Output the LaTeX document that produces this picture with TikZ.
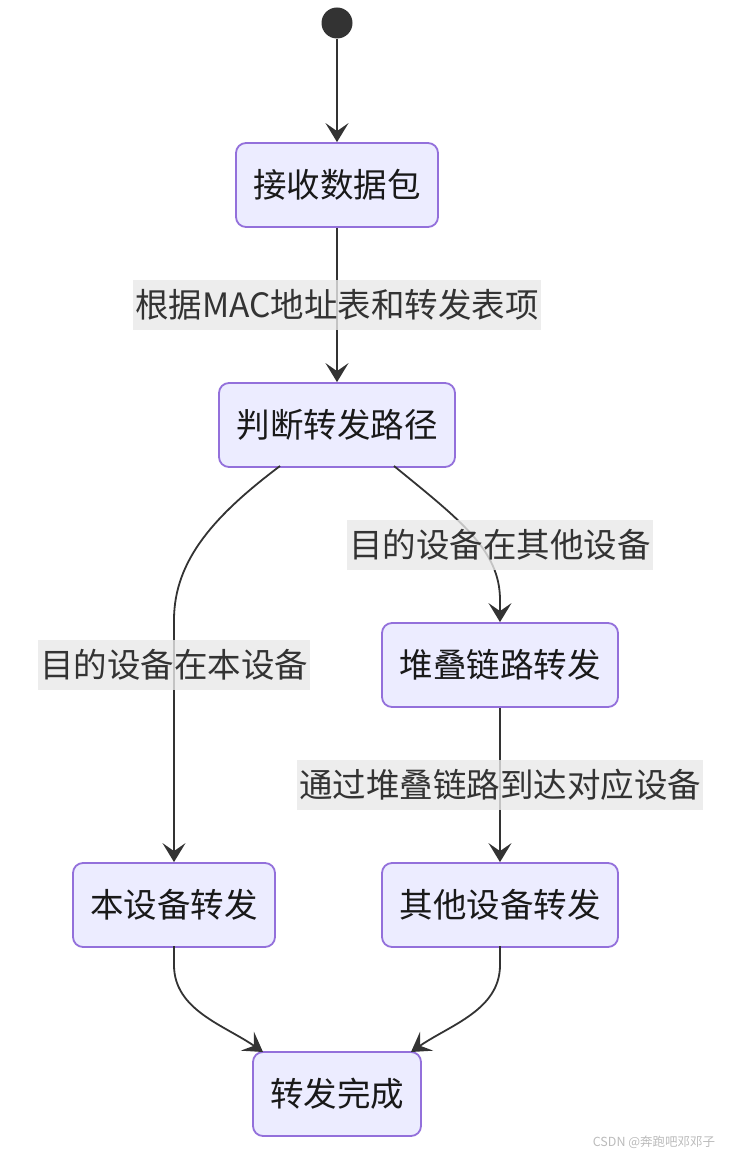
\documentclass[tikz,border=0pt]{standalone}
\usepackage{fontspec}
\setmainfont{Noto Sans CJK SC}
\usetikzlibrary{arrows.meta}
\definecolor{nodefill}{HTML}{ECECFF}
\definecolor{nodeline}{HTML}{9370DB}
\definecolor{edgecol}{HTML}{333333}
\definecolor{labelbg}{HTML}{E8E8E8}
\definecolor{marktext}{HTML}{BBBBBB}
\tikzset{
  state/.style={draw=nodeline, fill=nodefill, line width=1.8pt, rounded corners=10pt,
    minimum height=84pt, inner sep=0pt, text=black!90, font=\fontsize{33.5}{33.5}\selectfont},
  edgelabel/.style={fill=labelbg, fill opacity=0.8, text opacity=1, text=edgecol,
    minimum height=50pt, inner xsep=2pt, inner ysep=0pt, font=\fontsize{33.5}{33.5}\selectfont},
  flow/.style={draw=edgecol, line width=1.8pt, -{Stealth[length=19pt,width=23pt,inset=8pt]}},
}
\begin{document}
\begin{tikzpicture}[x=1pt,y=-1pt]
\useasboundingbox (0,0) rectangle (729,1155);
\node[circle, fill=edgecol, minimum size=31pt, inner sep=0pt] (start) at (337,23) {};
\node[state, minimum width=202pt] (recv) at (337,185) {接收数据包};
\node[state, minimum width=236pt] (judge) at (337,425) {判断转发路径};
\node[state, minimum width=236pt] (stack) at (500,665) {堆叠链路转发};
\node[state, minimum width=202pt] (local) at (174,905) {本设备转发};
\node[state, minimum width=236pt] (other) at (500,905) {其他设备转发};
\node[state, minimum width=168pt] (done) at (337,1094) {转发完成};

\coordinate (jl) at (280,466);
\coordinate (jr) at (394,466);
\coordinate (lb) at (174,946);
\coordinate (rb) at (500,946);

\draw[flow] (start) -- (recv);
\draw[flow] (recv) -- (judge);
\draw[flow] (jl) .. controls (215,515) and (174,560) .. (174,620) -- (local.north);
\draw[flow] (jr) .. controls (460,520) and (500,550) .. (500,600) -- (stack.north);
\draw[flow] (stack) -- (other);
\draw[flow] (lb) -- (174,965) .. controls (174,1010) and (224,1025) .. (263,1052);
\draw[flow] (rb) -- (500,965) .. controls (500,1010) and (450,1025) .. (411,1052);

\node[edgelabel] (l1) at (337,305) {根据MAC地址表和转发表项};
\node[edgelabel] (l2) at (500,545) {目的设备在其他设备};
\node[edgelabel] (l3) at (174,665) {目的设备在本设备};
\node[edgelabel] (l4) at (500,785) {通过堆叠链路到达对应设备};

\node[text=marktext, font=\fontsize{12.5}{12.5}\selectfont, inner sep=0pt] (wm) at (654,1142) {CSDN @奔跑吧邓邓子};
\end{tikzpicture}
\end{document}
